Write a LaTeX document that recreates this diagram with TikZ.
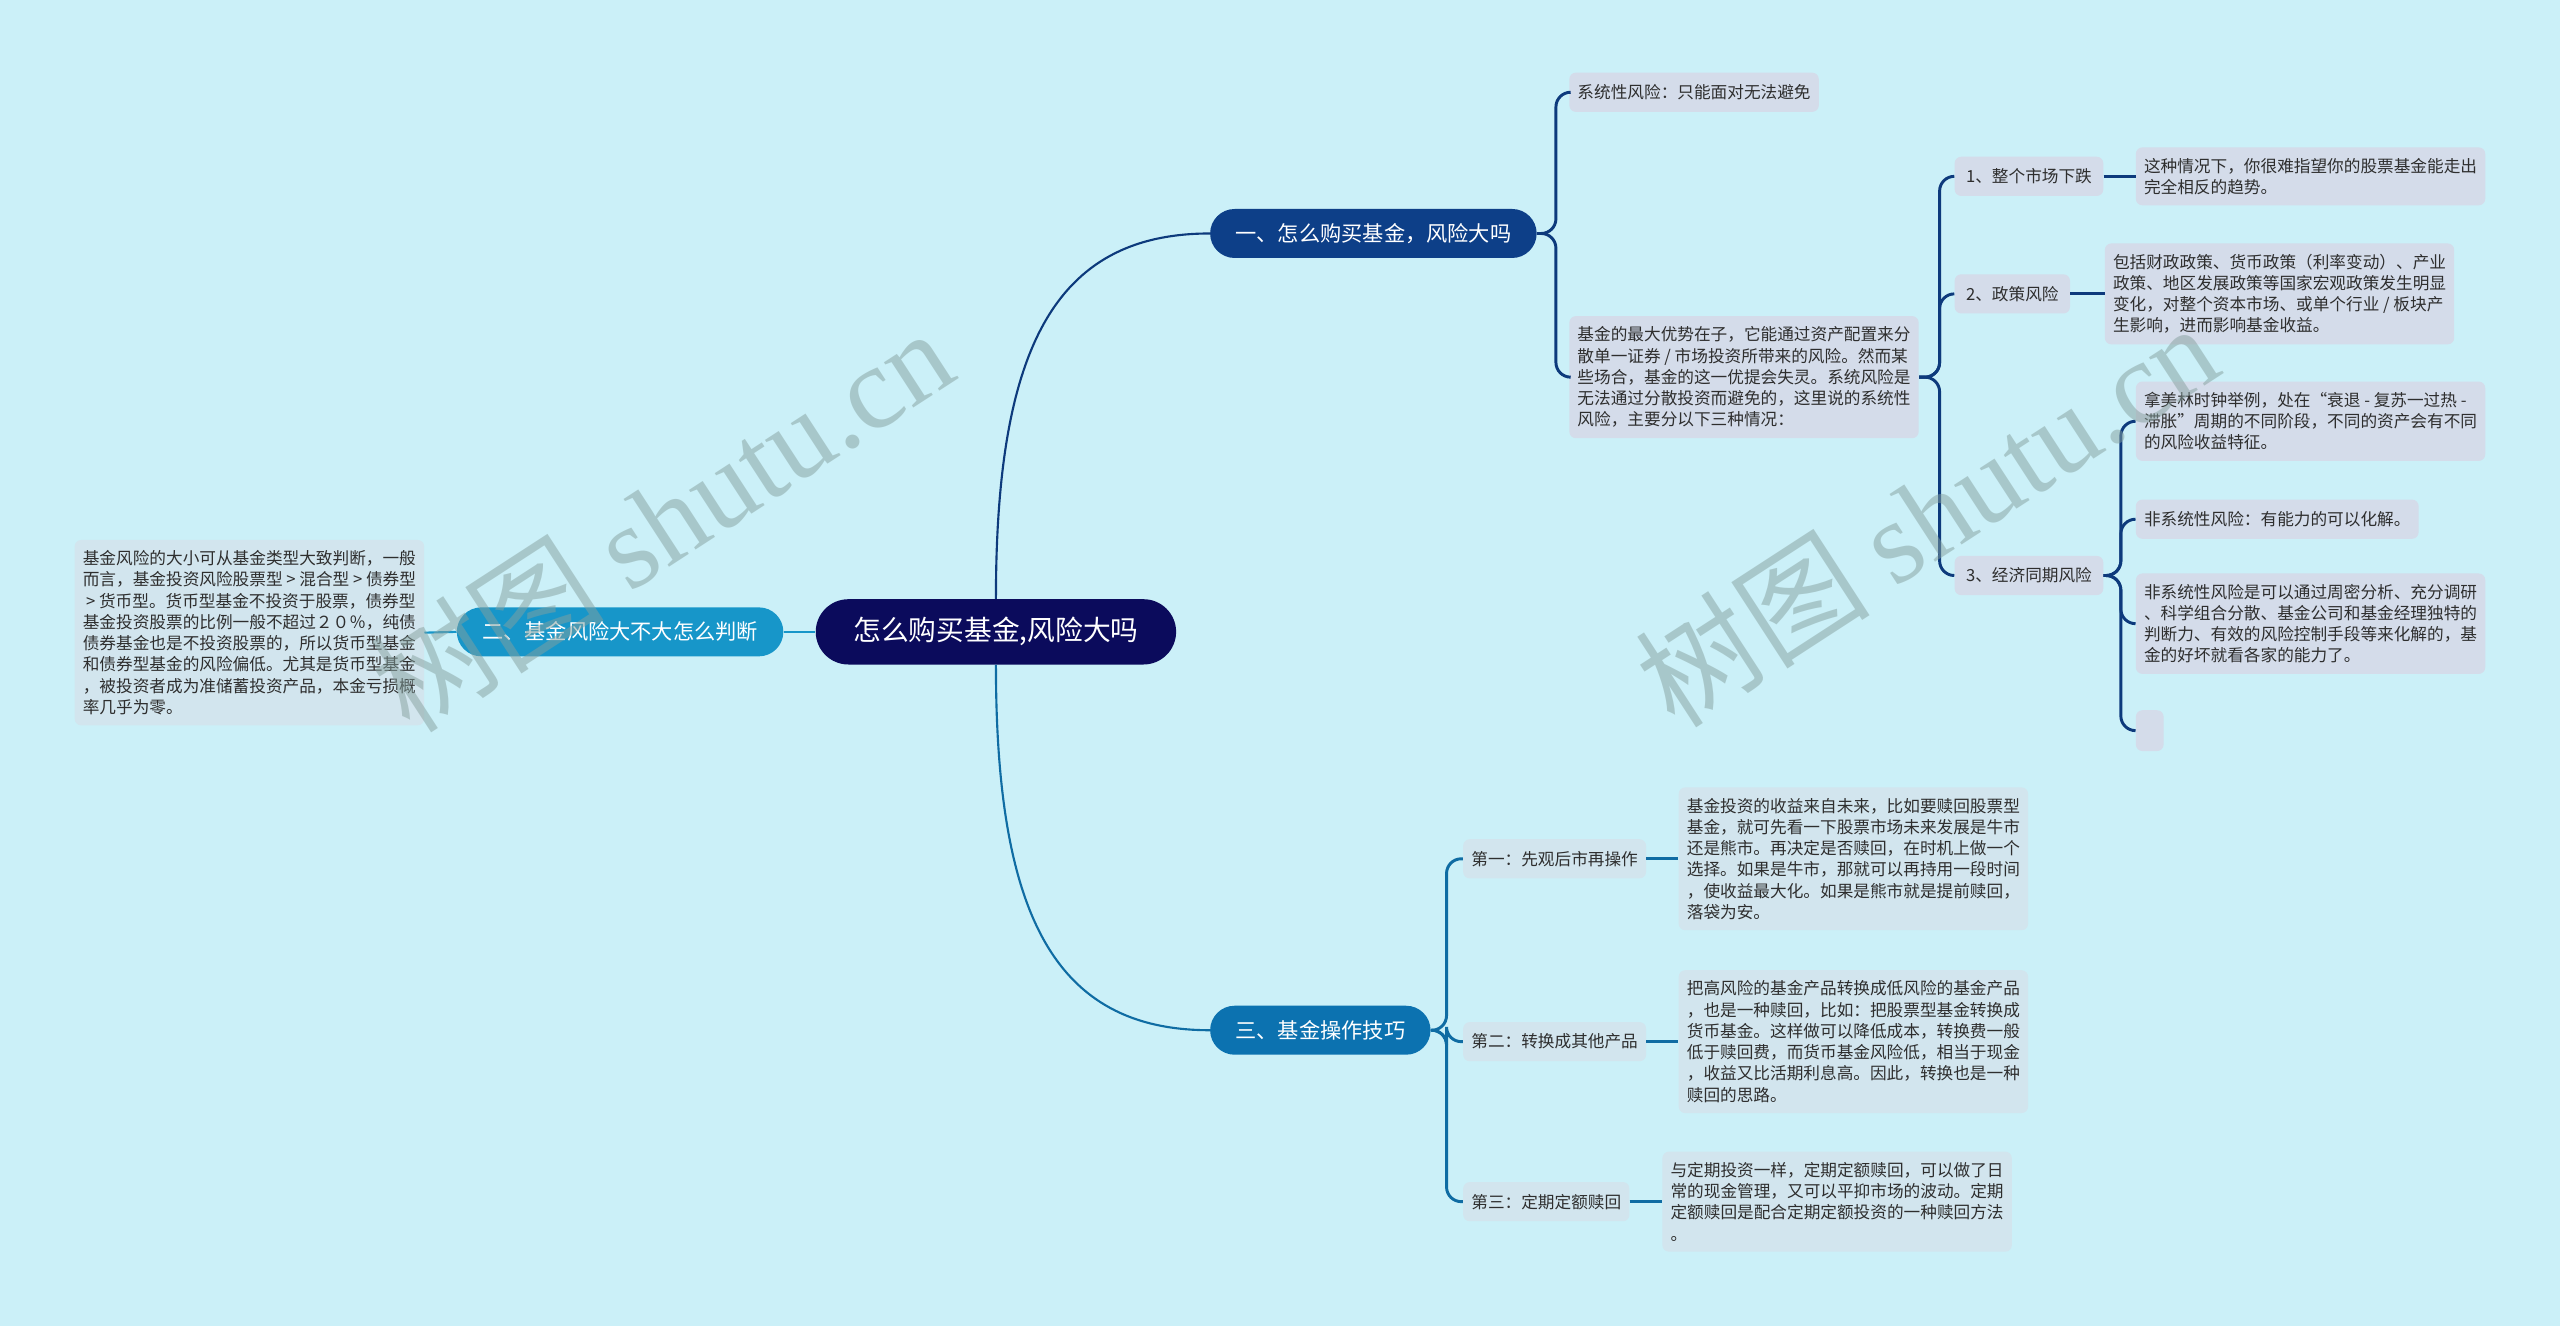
\documentclass[tikz,border=0pt]{standalone}
\usepackage{fontspec}
\newfontfamily\cjk{Noto Sans CJK SC}
\newfontfamily\wmlatin{Liberation Serif}
\definecolor{bgc}{HTML}{CBF0F8}
\definecolor{rootc}{HTML}{0B0B5C}
\definecolor{onec}{HTML}{0D3F88}
\definecolor{onel}{HTML}{0D3A7C}
\definecolor{twoc}{HTML}{1796C9}
\definecolor{threec}{HTML}{0C72B0}
\definecolor{threel}{HTML}{0F6CA3}
\definecolor{leafa}{HTML}{D4DCEA}
\definecolor{leafb}{HTML}{D2E5EE}
\definecolor{txt}{HTML}{2E2E2E}
\definecolor{wmc}{HTML}{85A09E}

\begin{document}
\begin{tikzpicture}[x=1pt,y=-1pt,
  every node/.style={font=\cjk,text=txt},
  rootbox/.style={fill=rootc,text=white,rounded corners=20pt,minimum height=40pt,inner xsep=23pt,font=\cjk\fontsize{17}{20}\selectfont},
  mainbox/.style={fill=#1,text=white,rounded corners=15pt,minimum height=30pt,inner xsep=15.5pt,font=\cjk\fontsize{13}{15}\selectfont},
  leafbox/.style={fill=#1,rounded corners=4pt,inner xsep=5pt,inner ysep=6.5pt,minimum height=24pt,align=left,anchor=west,font=\cjk\fontsize{10.2}{13}\selectfont},
  wire/.style={draw=#1,line width=1.3pt},
  stub/.style={draw=#1,line width=1.8pt,rounded corners=9pt},
  wmark/.style={text=wmc,opacity=0.5,rotate=33,font=\cjk\fontsize{72}{72}\selectfont}]

  \useasboundingbox (0,0) rectangle (1568,812);
  \fill[bgc] (0,0) rectangle (1568,812);

  % centre and main branches
  \node[rootbox] (root) at (610,387) {怎么购买基金,风险大吗};
  \node[mainbox=onec,anchor=west] (b1) at (741,143) {一、怎么购买基金，风险大吗};
  \node[mainbox=twoc,anchor=east] (b2) at (480,387) {二、基金风险大不大怎么判断};
  \node[mainbox=threec,anchor=west] (b3) at (741,631) {三、基金操作技巧};

  % branch one
  \node[leafbox=leafa] (a1) at (961,56.5) {系统性风险：只能面对无法避免};
  \node[leafbox=leafa] (a2) at (961,231) {基金的最大优势在子，它能通过资产配置来分\\散单一证券 / 市场投资所带来的风险。然而某\\些场合，基金的这一优提会失灵。系统风险是\\无法通过分散投资而避免的，这里说的系统性\\风险，主要分以下三种情况：};
  \node[leafbox=leafa,inner xsep=7pt] (c1) at (1197,108) {1、整个市场下跌};
  \node[leafbox=leafa] (c1t) at (1308,108) {这种情况下，你很难指望你的股票基金能走出\\完全相反的趋势。};
  \node[leafbox=leafa,inner xsep=7pt] (c2) at (1197,180) {2、政策风险};
  \node[leafbox=leafa] (c2t) at (1289,180) {包括财政政策、货币政策（利率变动）、产业\\政策、地区发展政策等国家宏观政策发生明显\\变化，对整个资本市场、或单个行业 / 板块产\\生影响，进而影响基金收益。};
  \node[leafbox=leafa,inner xsep=7pt] (c3) at (1197,352.5) {3、经济同期风险};
  \node[leafbox=leafa] (d1) at (1308,258) {拿美林时钟举例，处在“衰退 - 复苏一过热 -\\滞胀”周期的不同阶段，不同的资产会有不同\\的风险收益特征。};
  \node[leafbox=leafa] (d2) at (1308,318) {非系统性风险：有能力的可以化解。};
  \node[leafbox=leafa] (d3) at (1308,382) {非系统性风险是可以通过周密分析、充分调研\\、科学组合分散、基金公司和基金经理独特的\\判断力、有效的风险控制手段等来化解的，基\\金的好坏就看各家的能力了。};
  \node[leafbox=leafa,minimum width=17pt,minimum height=25pt] (d4) at (1308,447.5) {};

  % branch two
  \node[leafbox=leafb,anchor=east] (lft) at (260,387.5) {基金风险的大小可从基金类型大致判断，一般\\而言，基金投资风险股票型 > 混合型 > 债券型\\\hspace{2pt}> 货币型。货币型基金不投资于股票，债券型\\基金投资股票的比例一般不超过２０％，纯债\\债券基金也是不投资股票的，所以货币型基金\\和债券型基金的风险偏低。尤其是货币型基金\\，被投资者成为准储蓄投资产品，本金亏损概\\率几乎为零。};

  % branch three
  \node[leafbox=leafb] (e1) at (896,526) {第一：先观后市再操作};
  \node[leafbox=leafb] (e1t) at (1028,526) {基金投资的收益来自未来，比如要赎回股票型\\基金，就可先看一下股票市场未来发展是牛市\\还是熊市。再决定是否赎回，在时机上做一个\\选择。如果是牛市，那就可以再持用一段时间\\，使收益最大化。如果是熊市就是提前赎回，\\落袋为安。};
  \node[leafbox=leafb] (e2) at (896,638) {第二：转换成其他产品};
  \node[leafbox=leafb] (e2t) at (1028,638) {把高风险的基金产品转换成低风险的基金产品\\，也是一种赎回，比如：把股票型基金转换成\\货币基金。这样做可以降低成本，转换费一般\\低于赎回费，而货币基金风险低，相当于现金\\，收益又比活期利息高。因此，转换也是一种\\赎回的思路。};
  \node[leafbox=leafb] (e3) at (896,736) {第三：定期定额赎回};
  \node[leafbox=leafb] (e3t) at (1018,736) {与定期投资一样，定期定额赎回，可以做了日\\常的现金管理，又可以平抑市场的波动。定期\\定额赎回是配合定期定额投资的一种赎回方法\\。};

  % spines
  \coordinate (s1) at (953,143);
  \coordinate (s2) at (1188,231);
  \coordinate (s3) at (1299,352.5);
  \coordinate (s4) at (886,631);

  \draw[wire=onel] (root.north) .. controls (610,215) and (645,143) .. (b1.west);
  \draw[wire=threel] (root.south) .. controls (610,559) and (645,631) .. (b3.west);
  \draw[wire=twoc] (root.west) -- (b2.east);
  \draw[wire=twoc] (b2.west) -- (lft.east);

  \foreach \n in {a1,a2}{
    \draw[stub=onel] (b1.east) -- (s1) |- (\n.west);
  }
  \foreach \n in {c1,c2,c3}{
    \draw[stub=onel] (a2.east) -- (s2) |- (\n.west);
  }
  \foreach \n in {d1,d2,d3,d4}{
    \draw[stub=onel] (c3.east) -- (s3) |- (\n.west);
  }
  \foreach \n in {e1,e2,e3}{
    \draw[stub=threel] (b3.east) -- (s4) |- (\n.west);
  }
  \draw[stub=onel] (c1.east) -- (c1t.west);
  \draw[stub=onel] (c2.east) -- (c2t.west);
  \foreach \n in {1,2,3}{
    \draw[stub=threel] (e\n.east) -- (e\n t.west);
  }

  % watermark
  \node[wmark] (wm1) at (405,318) {树图 {\wmlatin shutu.cn}};
  \node[wmark] (wm2) at (1180,315) {树图 {\wmlatin shutu.cn}};
\end{tikzpicture}
\end{document}
